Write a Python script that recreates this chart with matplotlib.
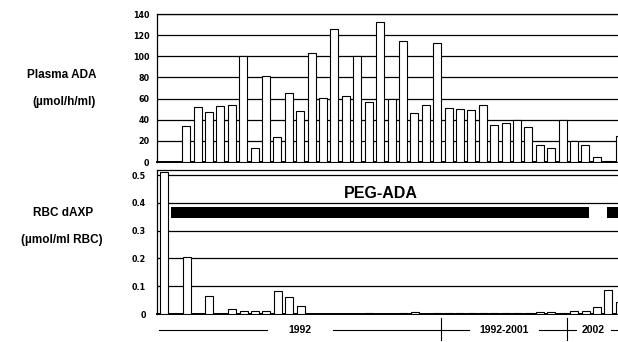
import numpy as np
import matplotlib
matplotlib.use('Agg')
from matplotlib import pyplot as plt
import matplotlib.transforms as mtransforms

# Datos (una barra por visita)
plasma_ada = [0, 0, 34, 52, 47, 53, 54, 100, 13, 81, 24, 65, 48, 103, 61, 126, 62,
              100, 57, 132, 60, 114, 46, 54, 113, 51, 50, 49, 54, 35, 37, 40, 33, 16,
              13, 40, 20, 16, 4.5, 1, 25]
rbc_daxp = [0.512, 0, 0.205, 0, 0.065, 0, 0.017, 0.009, 0.009, 0.009, 0.082, 0.062,
            0.029, 0, 0, 0, 0, 0, 0.004, 0, 0, 0.003, 0.007, 0, 0.002, 0.002, 0.003,
            0.003, 0.003, 0.002, 0.003, 0.003, 0.002, 0.008, 0.007, 0.004, 0.009, 0.01,
            0.024, 0.088, 0.044]
peg_spans = [(0.64, 37.27), (38.89, 41.0)]
peg_level = (0.347, 0.385)
# (inicio, fin, etiqueta) de cada periodo
periods = [(-0.4, 24.3, '1992'), (24.3, 35.4, '1992-2001'), (35.4, 41.0, '2002')]
ada_ticks = [0, 20, 40, 60, 80, 100, 120, 140]
daxp_ticks = [0, 0.1, 0.2, 0.3, 0.4, 0.5]

x = np.arange(len(plasma_ada))
W, H = 618, 342

fig = plt.figure(figsize=(W / 100, H / 100), dpi=100)
ax1 = fig.add_axes([156.5 / W, (H - 162) / H, (W - 156.5) / W, 148 / H])
ax2 = fig.add_axes([157 / W, (H - 314) / H, (W - 157) / W, 144 / H])

tick_font = dict(family='DejaVu Sans', weight='bold', size=5.8)
label_font = dict(family='Liberation Sans', weight='bold', size=8.5)

def style_axes(ax, ticks, ylim):
    ax.set_xlim(-0.6, 39.85)
    ax.set_ylim(*ylim)
    ax.set_xticks([])
    ax.set_yticks(ticks)
    ax.set_yticklabels(['%g' % t for t in ticks], **tick_font)
    ax.tick_params(axis='y', length=0, pad=5)
    for t in ticks[1:]:
        ax.axhline(t, color='black', lw=0.9, zorder=1)
    ax.spines['right'].set_visible(False)
    for s in ['left', 'top']:
        ax.spines[s].set_linewidth(0.9)
    ax.spines['bottom'].set_linewidth(1.4)

# Panel superior: Plasma ADA
ax1.bar(x, plasma_ada, width=0.7, color='white', edgecolor='black', lw=0.8, zorder=3)
style_axes(ax1, ada_ticks, (0, 140))

# Panel inferior: RBC dAXP
ax2.bar(x, rbc_daxp, width=0.7, color='white', edgecolor='black', lw=0.8, zorder=3)
style_axes(ax2, daxp_ticks, (0, 0.518))
ax2.set_yticklabels(['0', '0.1', '0.2', '0.3', '0.4', '0.5'], **tick_font)
ax2.tick_params(axis='y', pad=8)
for a, b in peg_spans:
    ax2.fill_between([a, b], peg_level[0], peg_level[1], color='black', lw=0, zorder=4)
ax2.text(19.0, 0.405, 'PEG-ADA', ha='center', va='bottom', zorder=5,
         family='Liberation Sans', weight='bold', size=11.5)

# Eje de periodos bajo el panel inferior
trans = mtransforms.blended_transform_factory(ax2.transData, ax2.transAxes)
y_line = -0.11
gaps = [2.9, 3.1, 1.5]  # medio hueco alrededor de cada texto
for i, (a, b, lab) in enumerate(periods):
    mid = (a + min(b, 40.0)) / 2
    for seg in ([a, mid - gaps[i]], [mid + gaps[i], b]):
        ax2.plot(seg, [y_line, y_line], color='black', lw=0.8,
                 transform=trans, clip_on=False)
    ax2.text(mid, y_line, lab, ha='center', va='center', transform=trans,
             family='Liberation Sans', weight='bold', size=7.5)
    if i > 0:
        ax2.plot([a, a], [-0.028, -0.18], color='black', lw=0.8,
                 transform=trans, clip_on=False)

# Etiquetas de la izquierda
fig.text(62 / W, 1 - 75 / H, 'Plasma ADA', ha='center', va='center', **label_font)
fig.text(64 / W, 1 - 102 / H, '(µmol/h/ml)', ha='center', va='center', **label_font)
fig.text(63 / W, 1 - 213 / H, 'RBC dAXP', ha='center', va='center', **label_font)
fig.text(62 / W, 1 - 240 / H, '(µmol/ml RBC)', ha='center', va='center', **label_font)

fig.savefig('out.png', dpi=100)
